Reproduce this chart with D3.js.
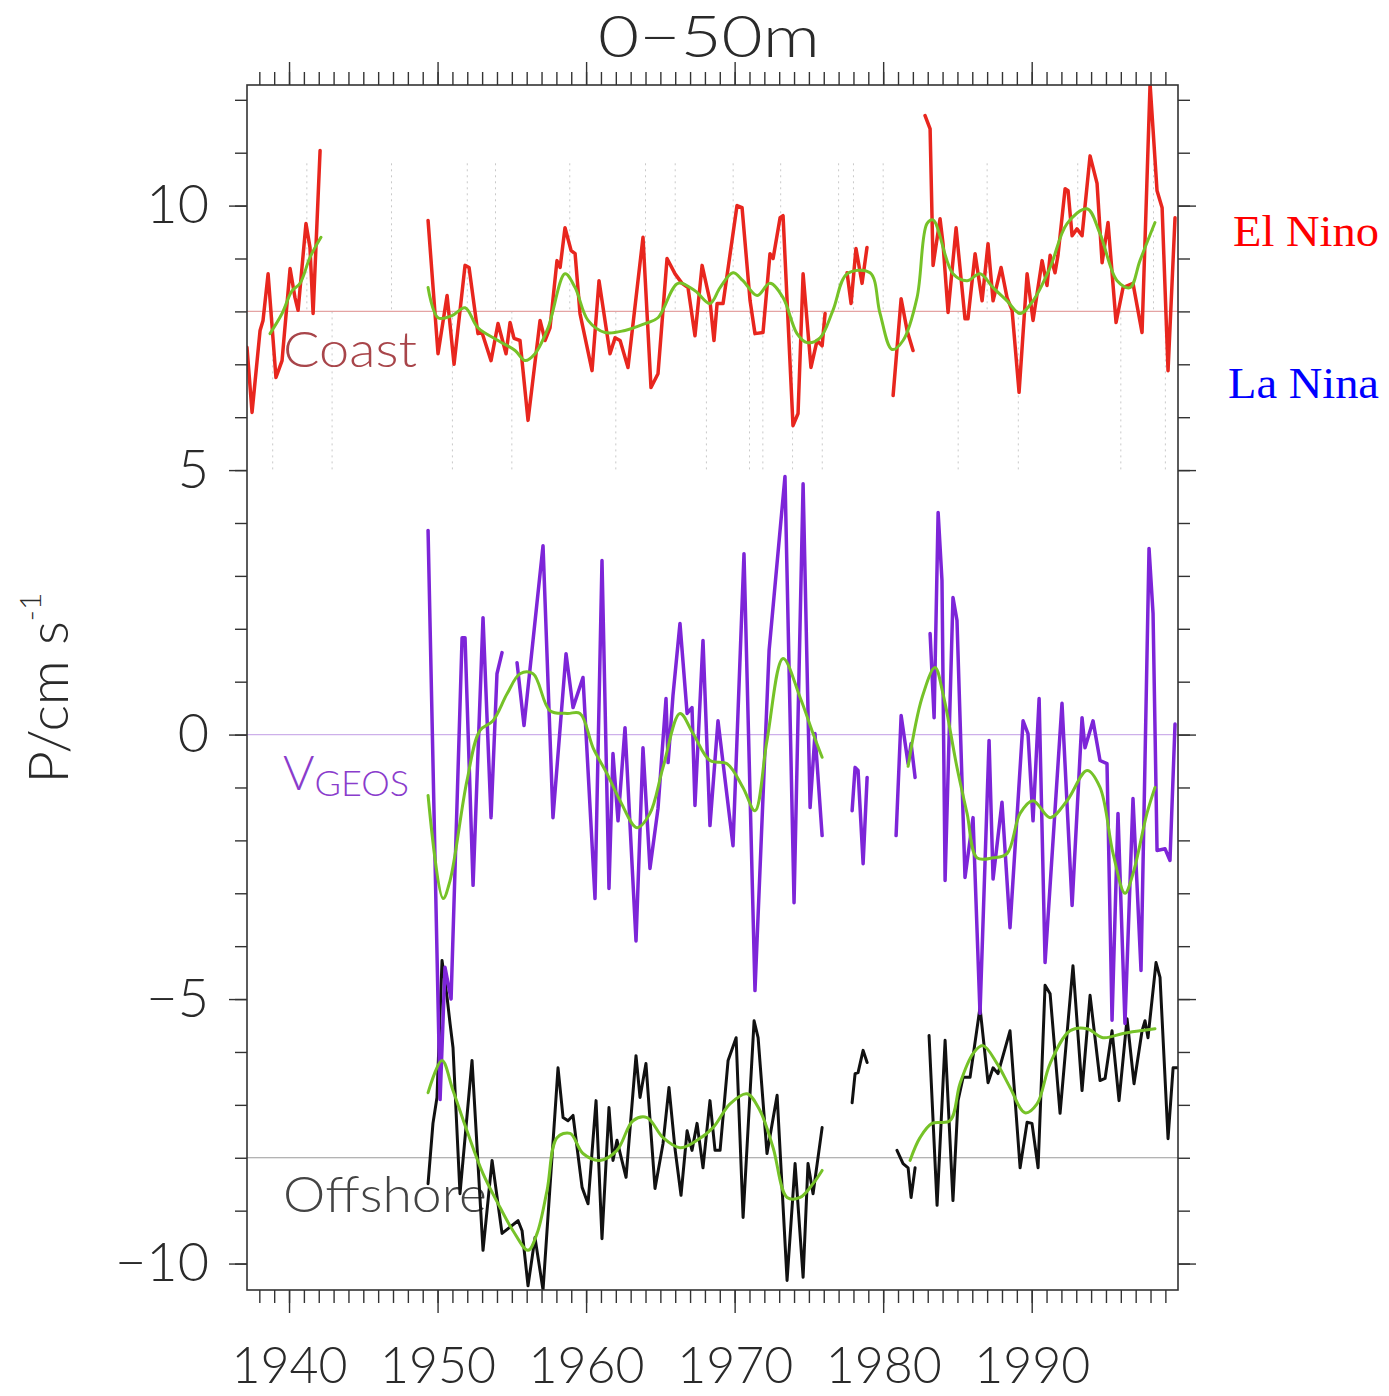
<!DOCTYPE html>
<html>
<head>
<meta charset="utf-8">
<script src="https://cdn.jsdelivr.net/npm/d3@7"></script>
<style>
  html, body { margin: 0; padding: 0; background: #fff; }
  svg { display: block; }
</style>
</head>
<body>
<svg id="chart" width="1389" height="1396"></svg>
<script>
// ---- Data: [year, value] pairs; null marks a break in the record ----

// Coastal pressure gradient (offset so its mean sits on the +8 line)
const coastSeries = [
  [1937.17, 7.32], [1937.51, 6.09], [1938.05, 7.64], [1938.25, 7.83], [1938.59, 8.71],
  [1939.12, 6.75], [1939.53, 7.07], [1940.07, 8.81], [1940.40, 8.26], [1940.61, 8.02],
  [1941.14, 9.66], [1941.41, 9.21], [1941.62, 7.96], [1942.09, 11.04],
  null,
  [1949.36, 9.72], [1950.03, 7.20], [1950.64, 8.30], [1951.11, 7.00], [1951.85, 8.87],
  [1952.12, 8.83], [1952.72, 7.58], [1952.99, 7.60], [1953.60, 7.07], [1954.07, 7.77],
  [1954.61, 7.20], [1954.88, 7.79], [1955.15, 7.49], [1955.55, 7.45], [1956.09, 5.94],
  [1956.90, 7.83], [1957.24, 7.45], [1957.57, 7.69], [1958.04, 8.96], [1958.25, 8.83],
  [1958.58, 9.58], [1958.99, 9.15], [1959.26, 9.09], [1959.59, 7.96], [1960.40, 6.88],
  [1960.87, 8.58], [1961.61, 7.20], [1961.95, 7.50], [1962.29, 7.45], [1962.82, 6.94],
  [1963.83, 9.40], [1964.37, 6.56], [1964.84, 6.82], [1965.45, 9.00], [1965.99, 8.71],
  [1966.46, 8.53], [1966.86, 8.45], [1967.33, 7.54], [1967.81, 8.87], [1968.34, 8.20],
  [1968.61, 7.45], [1968.82, 8.15], [1969.22, 8.15], [1970.16, 10.00], [1970.50, 9.96],
  [1971.04, 8.20], [1971.37, 7.58], [1971.91, 7.60], [1972.38, 9.09], [1972.59, 9.00],
  [1973.06, 9.77], [1973.26, 9.81], [1973.93, 5.84], [1974.27, 6.07], [1974.61, 8.71],
  [1975.14, 6.94], [1975.55, 7.45], [1975.89, 7.35], [1976.09, 7.96],
  null,
  [1977.57, 8.73], [1977.84, 8.15], [1978.17, 9.19], [1978.58, 8.53], [1978.91, 9.21],
  null,
  [1980.67, 6.41], [1981.21, 8.24], [1981.61, 7.64], [1982.01, 7.26],
  null,
  [1982.82, 11.70], [1983.16, 11.45], [1983.36, 8.87], [1983.83, 9.75], [1984.03, 9.28],
  [1984.37, 7.98], [1984.91, 9.58], [1985.51, 7.86], [1985.71, 7.86], [1986.19, 9.09],
  [1986.66, 8.20], [1987.06, 9.28], [1987.40, 8.20], [1987.94, 8.83], [1988.34, 8.26],
  [1988.68, 8.02], [1989.15, 6.47], [1989.69, 8.71], [1990.09, 7.83], [1990.70, 8.96],
  [1991.03, 8.49], [1991.24, 9.06], [1991.57, 8.73], [1991.77, 9.06], [1992.25, 10.32],
  [1992.45, 10.28], [1992.72, 9.43], [1993.05, 9.56], [1993.39, 9.43], [1993.93, 10.94],
  [1994.40, 10.42], [1994.74, 8.92], [1995.14, 9.68], [1995.68, 7.79], [1996.15, 8.45],
  [1996.82, 8.53], [1997.43, 7.60], [1997.97, 12.30], [1998.44, 10.28], [1998.78, 9.96],
  [1999.18, 6.88], [1999.65, 9.77]
];

const coastSmooth = [
  [1938.72, 7.58], [1939.53, 7.96], [1940.20, 8.39], [1940.74, 8.53], [1941.41, 9.02], [1942.15, 9.40],
  null,
  [1949.36, 8.45], [1950.03, 7.88], [1950.97, 7.92], [1951.85, 8.07], [1952.72, 7.69],
  [1954.07, 7.45], [1955.22, 7.26], [1955.89, 7.07], [1956.56, 7.20], [1957.44, 7.69],
  [1958.58, 8.71], [1959.26, 8.45], [1960.13, 7.83], [1961.28, 7.60], [1962.62, 7.64],
  [1963.97, 7.77], [1964.84, 7.88], [1966.19, 8.53], [1967.33, 8.39], [1968.34, 8.15],
  [1969.02, 8.45], [1969.89, 8.73], [1970.56, 8.58], [1971.51, 8.30], [1972.38, 8.53],
  [1973.26, 8.26], [1974.20, 7.58], [1974.88, 7.41], [1975.75, 7.50], [1976.62, 8.02],
  [1977.57, 8.71], [1979.12, 8.73], [1979.79, 7.96], [1980.60, 7.28], [1981.34, 7.45],
  [1982.28, 8.26], [1982.95, 9.66], [1983.36, 9.73], [1984.70, 8.71], [1985.65, 8.58],
  [1986.52, 8.71], [1987.40, 8.45], [1988.34, 8.20], [1989.22, 7.96], [1990.09, 8.20],
  [1991.24, 8.83], [1992.38, 9.66], [1993.73, 9.94], [1994.60, 9.47], [1995.75, 8.58],
  [1996.62, 8.45], [1997.29, 8.96], [1998.30, 9.68]
];

// Geostrophic velocity anomaly, plotted about zero
const vgeosSeries = [
  [1949.36, 3.86], [1950.17, -6.90], [1950.50, -4.40], [1950.91, -5.00], [1951.65, 1.83],
  [1951.85, 1.83], [1952.39, -2.85], [1953.06, 2.21], [1953.60, -1.57], [1954.00, 1.15],
  [1954.34, 1.55],
  null,
  [1955.35, 1.36], [1955.82, 0.17], [1957.10, 3.57], [1957.77, -1.57], [1958.65, 1.53],
  [1959.12, 0.51], [1959.79, 1.08], [1960.60, -3.10], [1961.07, 3.29], [1961.54, -2.91],
  [1961.81, -0.36], [1962.15, -1.63], [1962.62, 0.13], [1963.36, -3.90], [1963.83, -0.25],
  [1964.30, -2.53], [1964.84, -1.40], [1965.38, 0.68], [1965.52, -0.53], [1965.85, 0.74],
  [1966.32, 2.10], [1966.80, 0.40], [1967.13, 0.51], [1967.33, -1.34], [1967.87, 1.78],
  [1968.34, -1.72], [1968.88, 0.26], [1969.89, -2.10], [1970.63, 3.42], [1971.37, -4.84],
  [1972.32, 1.59], [1973.39, 4.88], [1974.00, -3.18], [1974.61, 4.74], [1975.08, -1.38],
  [1975.41, 0.02], [1975.89, -1.91],
  null,
  [1977.91, -1.44], [1978.11, -0.62], [1978.31, -0.68], [1978.65, -2.44], [1978.92, -0.81],
  null,
  [1980.87, -1.91], [1981.21, 0.36], [1981.68, -0.55], [1981.88, -0.17], [1982.15, -0.81],
  null,
  [1983.16, 1.91], [1983.43, 0.32], [1983.70, 4.20], [1983.96, 2.91], [1984.17, -2.76],
  [1984.70, 2.59], [1984.97, 2.16], [1985.51, -2.70], [1986.05, -1.57], [1986.52, -5.27],
  [1987.13, -0.11], [1987.40, -2.73], [1988.00, -1.28], [1988.54, -3.65], [1989.42, 0.26],
  [1989.75, 0.02], [1990.09, -1.63], [1990.50, 0.68], [1990.90, -4.31], [1992.04, 0.59],
  [1992.72, -3.23], [1993.39, 0.32], [1993.59, -0.25], [1994.13, 0.26], [1994.60, -0.49],
  [1995.07, -0.55], [1995.41, -5.40], [1995.81, -1.49], [1996.28, -5.46], [1996.82, -1.21],
  [1997.36, -4.46], [1997.90, 3.52], [1998.17, 2.29], [1998.44, -2.19], [1998.98, -2.16],
  [1999.31, -2.38], [1999.65, 0.20]
];

const vgeosSmooth = [
  [1949.36, -1.15], [1950.37, -3.10], [1950.84, -2.76], [1951.98, -0.87], [1952.86, 0.08],
  [1953.73, 0.26], [1954.68, 0.77], [1955.55, 1.15], [1956.43, 1.15], [1957.57, 0.45],
  [1958.72, 0.40], [1959.59, 0.40], [1960.47, -0.25], [1961.41, -0.74], [1962.29, -1.25],
  [1963.43, -1.76], [1964.30, -1.49], [1965.18, -0.62], [1966.32, 0.40], [1967.20, 0.02],
  [1968.34, -0.49], [1969.49, -0.55], [1970.56, -1.00], [1971.37, -1.44], [1972.18, -0.11],
  [1973.26, 1.44], [1974.41, 0.70], [1975.28, 0.02], [1975.89, -0.43],
  null,
  [1981.68, -0.60], [1982.62, 0.70], [1983.49, 1.27], [1984.03, 0.77], [1984.97, -0.62],
  [1985.65, -1.49], [1986.32, -2.33], [1987.40, -2.33], [1988.34, -2.25], [1989.22, -1.49],
  [1990.09, -1.25], [1991.24, -1.57], [1992.38, -1.25], [1993.73, -0.68], [1994.60, -1.00],
  [1995.48, -2.25], [1996.28, -3.00], [1996.82, -2.63], [1997.76, -1.49], [1998.30, -1.00]
];

// Offshore pressure gradient (offset so its mean sits on the -8 line)
const offshoreSeries = [
  [1949.36, -8.49], [1949.69, -7.35], [1949.96, -6.86], [1950.30, -4.27], [1950.64, -4.97],
  [1950.84, -5.46], [1951.04, -5.92], [1951.51, -8.68], [1952.32, -6.16], [1953.06, -9.75],
  [1953.67, -8.05], [1954.34, -9.43], [1955.42, -9.19], [1955.69, -9.38], [1956.09, -10.42],
  [1956.56, -9.51], [1957.10, -10.50], [1958.11, -6.30], [1958.45, -7.24], [1958.78, -7.30],
  [1959.12, -7.20], [1959.73, -8.56], [1960.13, -8.87], [1960.67, -6.92], [1961.07, -9.53],
  [1961.54, -7.05], [1961.81, -8.05], [1962.08, -7.67], [1962.69, -8.37], [1963.36, -6.07],
  [1963.63, -6.86], [1964.03, -6.22], [1964.64, -8.58], [1965.18, -7.73], [1965.58, -6.67],
  [1965.99, -7.84], [1966.39, -8.71], [1966.80, -7.49], [1967.13, -7.86], [1967.47, -7.35],
  [1967.87, -8.19], [1968.34, -6.92], [1968.68, -7.86], [1969.02, -7.86], [1969.56, -6.16],
  [1970.10, -5.73], [1970.57, -9.13], [1971.31, -5.41], [1971.58, -5.73], [1972.18, -7.92],
  [1972.86, -6.82], [1973.53, -10.32], [1974.07, -8.11], [1974.61, -10.26], [1974.94, -8.11],
  [1975.28, -8.68], [1975.89, -7.43],
  null,
  [1977.91, -6.96], [1978.11, -6.41], [1978.31, -6.39], [1978.65, -5.97], [1978.92, -6.20],
  null,
  [1980.93, -7.86], [1981.34, -8.11], [1981.68, -8.19], [1981.88, -8.75], [1982.15, -8.19],
  null,
  [1983.09, -5.69], [1983.63, -8.90], [1984.17, -5.78], [1984.70, -8.81], [1985.04, -6.92],
  [1985.38, -6.48], [1985.85, -6.48], [1986.52, -5.16], [1987.06, -6.58], [1987.40, -6.30],
  [1987.73, -6.41], [1988.54, -5.60], [1989.22, -8.19], [1989.69, -7.33], [1990.02, -7.35],
  [1990.43, -8.19], [1990.90, -4.74], [1991.24, -4.90], [1991.91, -7.16], [1992.78, -4.37],
  [1993.39, -6.73], [1993.93, -4.93], [1994.60, -6.54], [1994.94, -6.50], [1995.41, -5.60],
  [1995.88, -6.92], [1996.42, -5.37], [1996.89, -6.60], [1997.43, -5.60], [1997.63, -5.41],
  [1997.83, -5.73], [1998.37, -4.31], [1998.64, -4.59], [1999.18, -7.64], [1999.52, -6.30],
  [1999.79, -6.30]
];

const offshoreSmooth = [
  [1949.36, -6.77], [1950.30, -6.16], [1951.04, -6.73], [1951.98, -7.49], [1953.06, -8.30],
  [1954.21, -8.94], [1955.08, -9.38], [1956.09, -9.75], [1956.70, -9.43], [1957.37, -8.62],
  [1958.04, -7.62], [1958.92, -7.54], [1959.79, -7.92], [1960.93, -8.05], [1962.08, -7.86],
  [1963.16, -7.30], [1964.10, -7.24], [1965.18, -7.62], [1966.32, -7.81], [1967.47, -7.67],
  [1968.55, -7.43], [1969.69, -6.98], [1970.83, -6.79], [1971.71, -7.11], [1972.59, -7.81],
  [1973.53, -8.75], [1974.41, -8.75], [1975.28, -8.49], [1975.89, -8.24],
  null,
  [1981.81, -8.05], [1982.48, -7.62], [1983.29, -7.35], [1984.50, -7.30], [1985.17, -6.60],
  [1986.05, -6.03], [1986.72, -5.88], [1987.67, -6.22], [1988.54, -6.67], [1989.55, -7.15],
  [1990.36, -6.98], [1991.24, -6.22], [1992.58, -5.60], [1993.73, -5.56], [1994.80, -5.73],
  [1996.15, -5.65], [1997.29, -5.60], [1998.30, -5.56]
];

// Event markers drawn in the coastal panel
const elNinoYears = [1941.2, 1946.9, 1952.0, 1953.9, 1958.9, 1964.0, 1966.0, 1969.9, 1973.1,
                     1977.0, 1978.0, 1980.0, 1987.0, 1993.1, 1998.2];
const laNinaYears = [1938.9, 1942.9, 1951.0, 1955.0, 1962.0, 1968.1, 1971.0, 1971.9, 1973.9,
                     1975.9, 1985.05, 1989.1, 1996.0, 1999.0];

// Reference levels for the three stacked series
const baselines = [
  { value: 8, color: "#e4a3a3" },
  { value: 0, color: "#cdb0ea" },
  { value: -8, color: "#9a9a9a" }
];

// Axis ticks
const yMajorTicks = [-10, -5, 0, 5, 10];
const yMinorTicks = d3.range(-10, 13, 1);
const xMajorTicks = [1940, 1950, 1960, 1970, 1980, 1990];
const xMinorTicks = d3.range(1938, 2000, 1);

// ---- Layout ----
const plot = { left: 247, right: 1178, top: 85, bottom: 1290 };
const svg = d3.select("#chart");

const x = d3.scaleLinear().domain([1937.17, 1999.85]).range([plot.left, plot.right]);
const y = d3.scaleLinear().domain([-10.5, 12.28]).range([plot.bottom, plot.top]);

svg.append("defs").append("clipPath").attr("id", "plotClip")
  .append("rect")
  .attr("x", plot.left).attr("y", plot.top)
  .attr("width", plot.right - plot.left).attr("height", plot.bottom - plot.top);

const minus = d => (d < 0 ? "\u2212" + Math.abs(d) : String(d));
const lightFont = "Lato, 'Liberation Sans', sans-serif";

// Event markers
const markers = svg.append("g").attr("stroke", "#c9c9c9").attr("stroke-width", 1)
  .attr("stroke-dasharray", "2,4");
markers.selectAll("line.nino").data(elNinoYears).join("line")
  .attr("class", "nino")
  .attr("x1", d => x(d)).attr("x2", d => x(d))
  .attr("y1", y(10.8)).attr("y2", y(8));
markers.selectAll("line.nina").data(laNinaYears).join("line")
  .attr("class", "nina")
  .attr("x1", d => x(d)).attr("x2", d => x(d))
  .attr("y1", y(8)).attr("y2", y(5));

// Reference levels
svg.append("g").selectAll("line").data(baselines).join("line")
  .attr("x1", plot.left).attr("x2", plot.right)
  .attr("y1", d => y(d.value)).attr("y2", d => y(d.value))
  .attr("stroke", d => d.color).attr("stroke-width", 1.2);

// Series names inside the plot
const names = svg.append("g").attr("font-family", lightFont).attr("font-weight", 300);
names.append("text").attr("x", 283).attr("y", 367).attr("font-size", 50)
  .attr("fill", "#a8454a").attr("textLength", 134).attr("lengthAdjust", "spacingAndGlyphs")
  .text("Coast");
const vg = names.append("text").attr("x", 283).attr("y", 790).attr("fill", "#8a3ccc");
vg.append("tspan").attr("font-size", 48).text("V");
vg.append("tspan").attr("font-size", 36).attr("dy", 6).text("GEOS");
names.append("text").attr("x", 283).attr("y", 1212).attr("font-size", 50)
  .attr("fill", "#444").attr("textLength", 204).attr("lengthAdjust", "spacingAndGlyphs")
  .text("Offshore");

// Data lines
const rawLine = d3.line().defined(d => d !== null)
  .x(d => x(d[0])).y(d => y(d[1]));
const smoothLine = d3.line().defined(d => d !== null)
  .x(d => x(d[0])).y(d => y(d[1]))
  .curve(d3.curveCatmullRom.alpha(0.5));

const lines = svg.append("g").attr("clip-path", "url(#plotClip)")
  .attr("fill", "none").attr("stroke-linejoin", "round").attr("stroke-linecap", "round");

lines.append("path").datum(offshoreSeries).attr("d", rawLine)
  .attr("stroke", "#111").attr("stroke-width", 3);
lines.append("path").datum(vgeosSeries).attr("d", rawLine)
  .attr("stroke", "#7d25d8").attr("stroke-width", 3.5);
lines.append("path").datum(coastSeries).attr("d", rawLine)
  .attr("stroke", "#e8261e").attr("stroke-width", 3.5);

[coastSmooth, vgeosSmooth, offshoreSmooth].forEach(s => {
  lines.append("path").datum(s).attr("d", smoothLine)
    .attr("stroke", "#76c228").attr("stroke-width", 3);
});

// ---- Axes ----
function styleAxis(g) {
  g.select(".domain").remove();
  g.selectAll(".tick line").attr("stroke", "#333").attr("stroke-width", 1.4);
  g.selectAll(".tick text").attr("font-family", lightFont).attr("font-weight", 300)
    .attr("font-size", 54).attr("fill", "#2a2a2a");
}

svg.append("g").attr("transform", `translate(${plot.left},0)`)
  .call(d3.axisLeft(y).tickValues(yMinorTicks).tickSize(12).tickFormat(""))
  .call(styleAxis);
svg.append("g").attr("transform", `translate(${plot.left},0)`)
  .call(d3.axisLeft(y).tickValues(yMajorTicks).tickSize(18).tickPadding(20).tickFormat(minus))
  .call(styleAxis);
svg.append("g").attr("transform", `translate(${plot.right},0)`)
  .call(d3.axisRight(y).tickValues(yMinorTicks).tickSize(12).tickFormat(""))
  .call(styleAxis);
svg.append("g").attr("transform", `translate(${plot.right},0)`)
  .call(d3.axisRight(y).tickValues(yMajorTicks).tickSize(18).tickFormat(""))
  .call(styleAxis);

svg.append("g").attr("transform", `translate(0,${plot.bottom})`)
  .call(d3.axisBottom(x).tickValues(xMinorTicks).tickSize(13).tickFormat(""))
  .call(styleAxis);
const xLabels = svg.append("g").attr("transform", `translate(0,${plot.bottom})`)
  .call(d3.axisBottom(x).tickValues(xMajorTicks).tickSize(23).tickPadding(33).tickFormat(d3.format("d")))
  .call(styleAxis);
xLabels.selectAll(".tick text").attr("font-size", 52)
  .attr("textLength", 116).attr("lengthAdjust", "spacingAndGlyphs");
svg.append("g").attr("transform", `translate(0,${plot.top})`)
  .call(d3.axisTop(x).tickValues(xMinorTicks).tickSize(13).tickFormat(""))
  .call(styleAxis);
svg.append("g").attr("transform", `translate(0,${plot.top})`)
  .call(d3.axisTop(x).tickValues(xMajorTicks).tickSize(23).tickFormat(""))
  .call(styleAxis);

// Frame
svg.append("rect")
  .attr("x", plot.left).attr("y", plot.top)
  .attr("width", plot.right - plot.left).attr("height", plot.bottom - plot.top)
  .attr("fill", "none").attr("stroke", "#333").attr("stroke-width", 1.6);

// Title
svg.append("text").attr("x", 709).attr("y", 57).attr("text-anchor", "middle")
  .attr("font-family", lightFont).attr("font-weight", 300).attr("font-size", 58)
  .attr("fill", "#2a2a2a").attr("textLength", 222).attr("lengthAdjust", "spacingAndGlyphs")
  .text("0\u221250m");

// Y axis title
const yTitle = svg.append("text")
  .attr("transform", "translate(68,688) rotate(-90)")
  .attr("text-anchor", "middle")
  .attr("font-family", lightFont).attr("font-weight", 300).attr("font-size", 56)
  .attr("fill", "#2a2a2a");
yTitle.append("tspan").text("P/cm s");
yTitle.append("tspan").attr("font-size", 30).attr("dy", -27).text("-1");

// ENSO key
svg.append("text").attr("x", 1233).attr("y", 246)
  .attr("font-family", "'Liberation Serif', 'Times New Roman', serif").attr("font-size", 44)
  .attr("fill", "#ff0000").attr("textLength", 146).attr("lengthAdjust", "spacingAndGlyphs")
  .text("El Nino");
svg.append("text").attr("x", 1228).attr("y", 398)
  .attr("font-family", "'Liberation Serif', 'Times New Roman', serif").attr("font-size", 44)
  .attr("fill", "#0000ff").attr("textLength", 151).attr("lengthAdjust", "spacingAndGlyphs")
  .text("La Nina");
</script>
</body>
</html>
